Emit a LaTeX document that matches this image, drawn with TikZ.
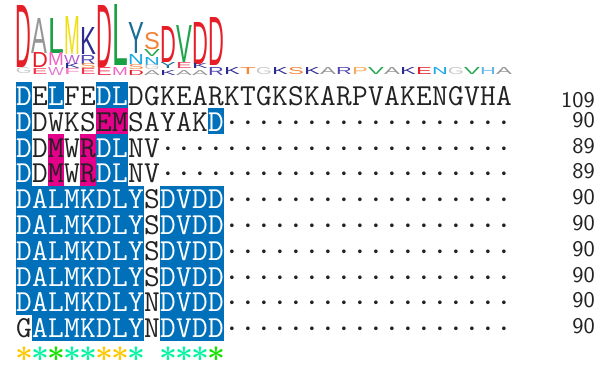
\documentclass[tikz,border=0pt]{standalone}
\usepackage{fontspec}
\usepackage{graphicx}
\newfontfamily\logofont{Liberation Sans}
\definecolor{hlblue}{RGB}{0,112,186}
\definecolor{hlpink}{RGB}{228,0,137}
\definecolor{txt}{RGB}{34,34,34}
\definecolor{cD}{RGB}{230,30,40}
\definecolor{cE}{RGB}{236,55,80}
\definecolor{cA}{RGB}{150,150,150}
\definecolor{cG}{RGB}{200,200,200}
\definecolor{cL}{RGB}{25,160,65}
\definecolor{cM}{RGB}{240,222,20}
\definecolor{cMp}{RGB}{238,100,190}
\definecolor{cW}{RGB}{228,120,205}
\definecolor{cWp}{RGB}{185,95,210}
\definecolor{cF}{RGB}{240,125,190}
\definecolor{cK}{RGB}{45,45,145}
\definecolor{cR}{RGB}{80,70,175}
\definecolor{cS}{RGB}{242,130,55}
\definecolor{cT}{RGB}{245,135,55}
\definecolor{cP}{RGB}{250,170,95}
\definecolor{cY}{RGB}{25,110,150}
\definecolor{cN}{RGB}{25,170,230}
\definecolor{cV}{RGB}{30,165,75}
\definecolor{cH}{RGB}{100,180,230}
\definecolor{sGold}{RGB}{255,200,0}
\definecolor{sAqua}{RGB}{0,245,160}
\definecolor{sGreen}{RGB}{20,225,0}
\tikzset{
  logo/.style={anchor=south west,inner sep=0pt,outer sep=0pt},
  seq/.style={anchor=base,inner sep=0pt,font=\ttfamily\fontsize{30.5}{30}\selectfont},
  txtb/.style={text=white}, txtp/.style={text=txt}, txtn/.style={text=txt},
  fillb/.style={fill=hlblue}, fillp/.style={fill=hlpink}, filln/.style={},
  num/.style={anchor=base east,inner sep=0pt,font=\sffamily\fontsize{22.5}{22}\selectfont,text=txt},
  star/.style={anchor=base,inner sep=0pt,font=\fontsize{24}{24}\selectfont},
  dotg/.style={anchor=base,inner sep=0pt,text=txt,font=\fontsize{30}{30}\selectfont}
}
\newcommand{\LogoL}[5]{%
  \pgfmathsetmacro{\lhh}{#3-#2}%
  \pgfmathsetmacro{\lxx}{16+16*#1}%
  \node[logo,text=#4] (L-#1-#2) at (\lxx,#3) {\resizebox{15.8pt}{\lhh pt}{\logofont #5}};}
\newcommand{\SeqRow}[2]{%
  \foreach \ch/\h [count=\ci from 0] in {#2} {
    \path[fill\h] ({16+16*\ci},{82.5+25.8*#1}) rectangle ++(16.4,26.1);
  }
  \foreach \ch/\h [count=\ci from 0] in {#2} {
    \node[seq,txt\h] (s-#1-\ci) at ({24+16*\ci},{105.5+25.8*#1}) {\ch};
  }}
\newcommand{\DotRow}[2]{%
  \foreach \ci in {#2,...,30} {
    \node[dotg] (d-#1-\ci) at ({24+16*\ci},{105.5+25.8*#1}) {\scalebox{1.4}{$\cdot$}};
  }}
\begin{document}
\begin{tikzpicture}[x=1pt,y=-1pt]
\useasboundingbox (0,0) rectangle (608,369);
% ---------- logo ----------
\LogoL{0}{5}{67}{cD}{D}
\LogoL{0}{68}{74}{cG}{G}
\LogoL{1}{18}{53}{cA}{A}
\LogoL{1}{53}{68}{cD}{D}
\LogoL{1}{69}{75}{cE}{E}
\LogoL{2}{18}{53}{cL}{L}
\LogoL{2}{53}{66}{cMp}{M}
\LogoL{2}{67}{75}{cW}{W}
\LogoL{3}{17}{55}{cM}{M}
\LogoL{3}{55}{64}{cWp}{W}
\LogoL{3}{64}{69}{cK}{K}
\LogoL{3}{69}{75}{cF}{F}
\LogoL{4}{28}{55}{cK}{K}
\LogoL{4}{55}{64}{cR}{R}
\LogoL{4}{64}{69}{cS}{S}
\LogoL{4}{69}{75}{cE}{E}
\LogoL{5}{5}{67}{cD}{D}
\LogoL{5}{67}{75}{cE}{E}
\LogoL{6}{5}{66}{cL}{L}
\LogoL{6}{67}{75}{cMp}{M}
\LogoL{7}{23}{54}{cY}{Y}
\LogoL{7}{55}{65}{cN}{N}
\LogoL{7}{65}{70}{cS}{S}
\LogoL{7}{70}{75}{cD}{D}
\LogoL{8}{33}{50}{cS}{S}
\LogoL{8}{50}{57}{cV}{V}
\LogoL{8}{57}{65}{cN}{N}
\LogoL{8}{65}{70}{cG}{G}
\LogoL{8}{70}{75}{cA}{A}
\LogoL{9}{27}{63}{cD}{D}
\LogoL{9}{63}{69}{cY}{Y}
\LogoL{9}{70}{75}{cK}{K}
\LogoL{10}{26}{63}{cV}{V}
\LogoL{10}{63}{69}{cE}{E}
\LogoL{10}{70}{75}{cA}{A}
\LogoL{11}{22}{64}{cD}{D}
\LogoL{11}{64}{69}{cK}{K}
\LogoL{11}{70}{75}{cA}{A}
\LogoL{12}{18}{66}{cD}{D}
\LogoL{12}{67}{75}{cR}{R}
\foreach \ci/\lt/\cl in {13/K/cK,14/T/cT,15/G/cG,16/K/cK,17/S/cS,18/K/cK,19/A/cA,20/R/cR,21/P/cP,22/V/cV,23/A/cA,24/K/cK,25/E/cD,26/N/cN,27/G/cG,28/V/cV,29/H/cH,30/A/cA}{
  \LogoL{\ci}{68}{75}{\cl}{\lt}
}
% ---------- alignment ----------
\SeqRow{0}{D/b,E/n,L/b,F/n,E/n,D/b,L/b,D/n,G/n,K/n,E/n,A/n,R/n,K/n,T/n,G/n,K/n,S/n,K/n,A/n,R/n,P/n,V/n,A/n,K/n,E/n,N/n,G/n,V/n,H/n,A/n}
\SeqRow{1}{D/b,D/n,W/n,K/n,S/n,E/p,M/p,S/n,A/n,Y/n,A/n,K/n,D/b}
\SeqRow{2}{D/b,D/n,M/p,W/n,R/p,D/b,L/b,N/n,V/n}
\SeqRow{3}{D/b,D/n,M/p,W/n,R/p,D/b,L/b,N/n,V/n}
\SeqRow{4}{D/b,A/b,L/b,M/b,K/b,D/b,L/b,Y/b,S/n,D/b,V/b,D/b,D/b}
\SeqRow{5}{D/b,A/b,L/b,M/b,K/b,D/b,L/b,Y/b,S/n,D/b,V/b,D/b,D/b}
\SeqRow{6}{D/b,A/b,L/b,M/b,K/b,D/b,L/b,Y/b,S/n,D/b,V/b,D/b,D/b}
\SeqRow{7}{D/b,A/b,L/b,M/b,K/b,D/b,L/b,Y/b,S/n,D/b,V/b,D/b,D/b}
\SeqRow{8}{D/b,A/b,L/b,M/b,K/b,D/b,L/b,Y/b,N/n,D/b,V/b,D/b,D/b}
\SeqRow{9}{G/n,A/b,L/b,M/b,K/b,D/b,L/b,Y/b,N/n,D/b,V/b,D/b,D/b}
\DotRow{1}{13}
\DotRow{2}{9}
\DotRow{3}{9}
\DotRow{4}{13}
\DotRow{5}{13}
\DotRow{6}{13}
\DotRow{7}{13}
\DotRow{8}{13}
\DotRow{9}{13}
% ---------- lengths ----------
\node[num] (n0) at (595,107) {\scalebox{1.06}[1]{109}};
\foreach \r/\v in {1/90,2/89,3/89,4/90,5/90,6/90,7/90,8/90,9/90}{
  \node[num] (n\r) at (595,{101.5+25.8*\r}) {\scalebox{1.06}[1]{\v}};
}
% ---------- conservation stars ----------
\foreach \ci/\cl in {0/sGold,1/sAqua,2/sGreen,3/sAqua,4/sAqua,5/sGold,6/sGold,7/sAqua,9/sAqua,10/sAqua,11/sAqua,12/sGreen}{
  \node[star,text=\cl] (st-\ci) at ({24+16*\ci},361) {\scalebox{1.25}{\boldmath$\ast$}};
}
\end{tikzpicture}
\end{document}
